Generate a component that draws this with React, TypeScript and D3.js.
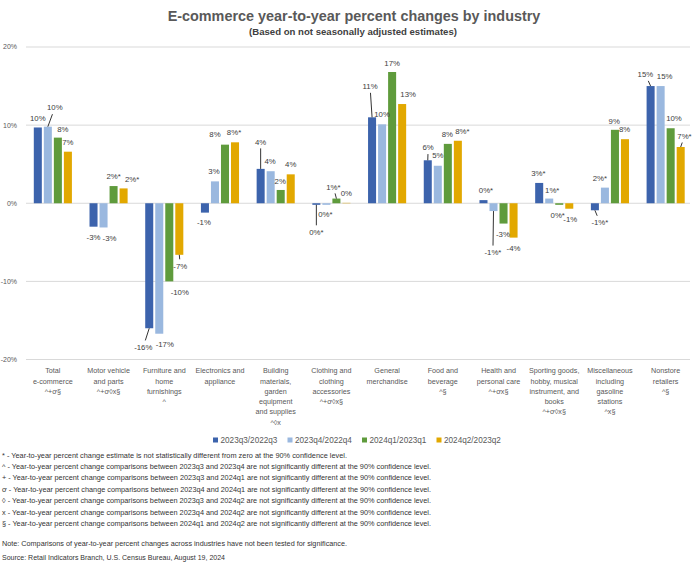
import React from "react";
import * as d3 from "d3";

const CATEGORY_LINES: string[][] = [
  ["Total", "e-commerce", "^+ơ§"],
  ["Motor vehicle", "and parts", "^+ơ◊x§"],
  ["Furniture and", "home", "furnishings", "^"],
  ["Electronics and", "appliance"],
  ["Building", "materials,", "garden", "equipment", "and supplies", "^◊x"],
  ["Clothing and", "clothing", "accessories", "^+ơ◊x§"],
  ["General", "merchandise"],
  ["Food and", "beverage", "^§"],
  ["Health and", "personal care", "^+ơx§"],
  ["Sporting goods,", "hobby, musical", "instrument, and", "books", "^+ơ◊x§"],
  ["Miscellaneous", "including", "gasoline", "stations", "^x§"],
  ["Nonstore", "retailers", "^§"],
];

const SERIES_NAMES = ["2023q3/2022q3", "2023q4/2022q4", "2024q1/2023q1", "2024q2/2023q2"];

const V_2023Q3 = [9.7, -3.0, -16.0, -1.2, 4.4, -0.2, 11.0, 5.5, 0.4, 2.6, -0.9, 15.0];
const V_2023Q4 = [9.8, -3.1, -16.7, 2.8, 4.1, -0.2, 10.1, 4.8, -1.0, 0.6, 2.0, 15.0];
const V_2024Q1 = [8.4, 2.2, -10.0, 7.5, 1.7, 0.6, 16.8, 7.6, -2.6, -0.2, 9.4, 9.6];
const V_2024Q2 = [6.6, 1.9, -6.6, 7.8, 3.7, 0.05, 12.7, 8.0, -4.4, -0.7, 8.2, 7.2];

// 1 = not statistically different from zero (label gets "*")
const NS_2023Q3 = [0, 0, 0, 0, 0, 1, 0, 0, 1, 1, 1, 0];
const NS_2023Q4 = [0, 0, 0, 0, 0, 1, 0, 0, 1, 1, 1, 0];
const NS_2024Q1 = [0, 1, 0, 0, 0, 1, 0, 0, 0, 1, 0, 0];
const NS_2024Q2 = [0, 1, 0, 1, 0, 0, 0, 1, 0, 0, 0, 1];

const Y_TICKS = [-20, -10, 0, 10, 20];

const FOOTNOTES = [
  "* - Year-to-year percent change estimate is not statistically different from zero at the 90% confidence level.",
  "^ - Year-to-year percent change comparisons between 2023q3 and 2023q4 are not significantly different at the 90% confidence level.",
  "+ - Year-to-year percent change comparisons between 2023q3 and 2024q1 are not significantly different at the 90% confidence level.",
  "ơ - Year-to-year percent change comparisons between 2023q4 and 2024q1 are not significantly different at the 90% confidence level.",
  "◊ - Year-to-year percent change comparisons between 2023q3 and 2024q2 are not significantly different at the 90% confidence level.",
  "x - Year-to-year percent change comparisons between 2023q4 and 2024q2 are not significantly different at the 90% confidence level.",
  "§ - Year-to-year percent change comparisons between 2024q1 and 2024q2 are not significantly different at the 90% confidence level.",
];
const NOTE = "Note: Comparisons of year-to-year percent changes across industries have not been tested for significance.";
const SOURCE = "Source: Retail Indicators Branch, U.S. Census Bureau, August 19, 2024";

// ---- layout / style (not data) ----
const COLORS = ["#3C63AC", "#9AB8DF", "#5F9B3C", "#E2A800"];
const FOOTNOTE_WIDTHS = [345, 429, 429, 429, 429, 429, 429];
const NOTE_WIDTH = 345;
const SOURCE_WIDTH = 223;

// label offsets from bar end [dx, dy, leader]
const LABEL_POS: [number, number, number][][] = [
  [[0, -9.5, 0], [0, 11, 0], [-6, 18.7, 1], [-1, 10, 0], [0, -27, 1], [0, 27, 1], [-2, -31, 1], [0.4, -12.7, 1], [2.5, -10, 0], [-0.8, -10, 0], [5, 12, 1], [-5.2, -11.7, 1]],
  [[7, -19, 1], [6, 10.6, 0], [5.5, 10.5, 0], [-1, -10.5, 0], [-0.5, -10, 0], [-1, 9, 0], [0, -10, 0], [0, -10, 0], [-0.6, 41, 1], [3, -8.5, 0], [-5, -9.7, 0], [4, -9.7, 0]],
  [[5, -8.5, 0], [0, -10, 0], [10.5, 10.5, 0], [-10, -10.5, 0], [-0.5, -9, 0], [-3, -11.7, 1], [0, -8.7, 0], [-0.5, -9.7, 0], [-0.6, 10.3, 0], [-1.5, 10.6, 0], [-0.7, -9, 0], [3.3, -9.7, 0]],
  [[0, -9.4, 0], [8.5, -9.5, 0], [1, 11, 1], [-1, -10, 0], [0, -9.7, 0], [0, -9.6, 0], [6, -9.7, 0], [4.5, -9.7, 0], [0, 10.6, 0], [1, 10.6, 0], [-0.3, -9.7, 0], [3.8, -11, 1]],
];

const FONT = "'Liberation Sans', Arial, sans-serif";

export default function App() {
  const W = 700;
  const H = 566;
  const values = [V_2023Q3, V_2023Q4, V_2024Q1, V_2024Q2];
  const ns = [NS_2023Q3, NS_2023Q4, NS_2024Q1, NS_2024Q2];
  const idx = d3.range(CATEGORY_LINES.length).map(String);

  const x = d3.scaleBand<string>().domain(idx).range([25, 693.5]).paddingInner(0.28).paddingOuter(0.14);
  const xs = d3.scaleBand<string>().domain(SERIES_NAMES).range([0, x.bandwidth()]).paddingInner(0.2).paddingOuter(0.1);
  const y = d3.scaleLinear().domain([-20, 20]).range([359.5, 47]);

  const fmt = (v: number, star: number) => {
    let r = Math.round(v);
    if (Object.is(r, -0)) r = 0;
    return `${r}%${star ? "*" : ""}`;
  };

  const bars: React.ReactNode[] = [];
  const labels: React.ReactNode[] = [];
  values.forEach((arr, s) => {
    arr.forEach((v, i) => {
      const bx = (x(String(i)) ?? 0) + (xs(SERIES_NAMES[s]) ?? 0);
      const bw = xs.bandwidth();
      const y0 = y(0);
      const y1 = y(v);
      bars.push(
        <rect key={`b${s}-${i}`} x={bx} y={Math.min(y0, y1)} width={bw} height={Math.abs(y1 - y0)} fill={COLORS[s]} />
      );
      const cx = bx + bw / 2;
      const [dx, dy, leader] = LABEL_POS[s][i];
      const lx = cx + dx;
      const ly = y1 + dy;
      if (leader) {
        const len = Math.abs(y1 - ly);
        const t = 6.5 / len;
        const ex = lx + (cx - lx) * t;
        const ey = ly + (y1 - ly) * t;
        labels.push(<line key={`l${s}-${i}`} x1={cx} y1={y1} x2={ex} y2={ey} stroke="#000" strokeWidth={0.8} />);
      }
      labels.push(
        <text key={`t${s}-${i}`} x={lx} y={ly} dy="0.35em" textAnchor="middle" fontSize={7.8} fill="#404040">
          {fmt(v, ns[s][i])}
        </text>
      );
    });
  });

  const legendX = [213, 287.5, 362, 436.5];

  return (
    <div style={{ position: "absolute", left: 0, top: 0 }}>
      <svg width={W} height={H} style={{ display: "block", background: "#fff" }} fontFamily={FONT}>
        <text x={354} y={16} dy="0.35em" textAnchor="middle" fontSize={14.4} fontWeight="bold" fill="#595959">
          E-commerce year-to-year percent changes by industry
        </text>
        <text x={353} y={32} dy="0.35em" textAnchor="middle" fontSize={9.6} fontWeight="bold" fill="#404040">
          (Based on not seasonally adjusted estimates)
        </text>

        {Y_TICKS.map((t) => (
          <g key={`g${t}`}>
            <line x1={26} x2={690} y1={y(t)} y2={y(t)} stroke="#D9D9D9" strokeWidth={1} />
            <text x={17} y={y(t)} dy="0.35em" textAnchor="end" fontSize={7} fill="#595959">
              {`${t}%`}
            </text>
          </g>
        ))}

        {bars}
        {labels}

        {CATEGORY_LINES.map((lines, i) => (
          <text key={`c${i}`} textAnchor="middle" fontSize={7.2} fill="#595959">
            {lines.map((ln, k) => (
              <tspan key={k} x={(x(String(i)) ?? 0) + x.bandwidth() / 2} y={370.7 + k * 10.3} dy="0.35em">
                {ln}
              </tspan>
            ))}
          </text>
        ))}

        {SERIES_NAMES.map((n, s) => (
          <g key={`lg${s}`}>
            <rect x={legendX[s]} y={437.5} width={5} height={5} fill={COLORS[s]} />
            <text x={legendX[s] + 7.5} y={440} dy="0.35em" fontSize={8.2} fill="#595959">
              {n}
            </text>
          </g>
        ))}

        {FOOTNOTES.map((f, k) => (
          <text
            key={`f${k}`}
            x={2}
            y={455 + k * 11.4}
            dy="0.35em"
            fontSize={7.2}
            fill="#333"
            textLength={FOOTNOTE_WIDTHS[k]}
            lengthAdjust="spacingAndGlyphs"
          >
            {f}
          </text>
        ))}
        <text x={2} y={543.3} dy="0.35em" fontSize={7.2} fill="#333" textLength={NOTE_WIDTH} lengthAdjust="spacingAndGlyphs">
          {NOTE}
        </text>
        <text x={2} y={557.7} dy="0.35em" fontSize={7.2} fill="#333" textLength={SOURCE_WIDTH} lengthAdjust="spacingAndGlyphs">
          {SOURCE}
        </text>
      </svg>
    </div>
  );
}
